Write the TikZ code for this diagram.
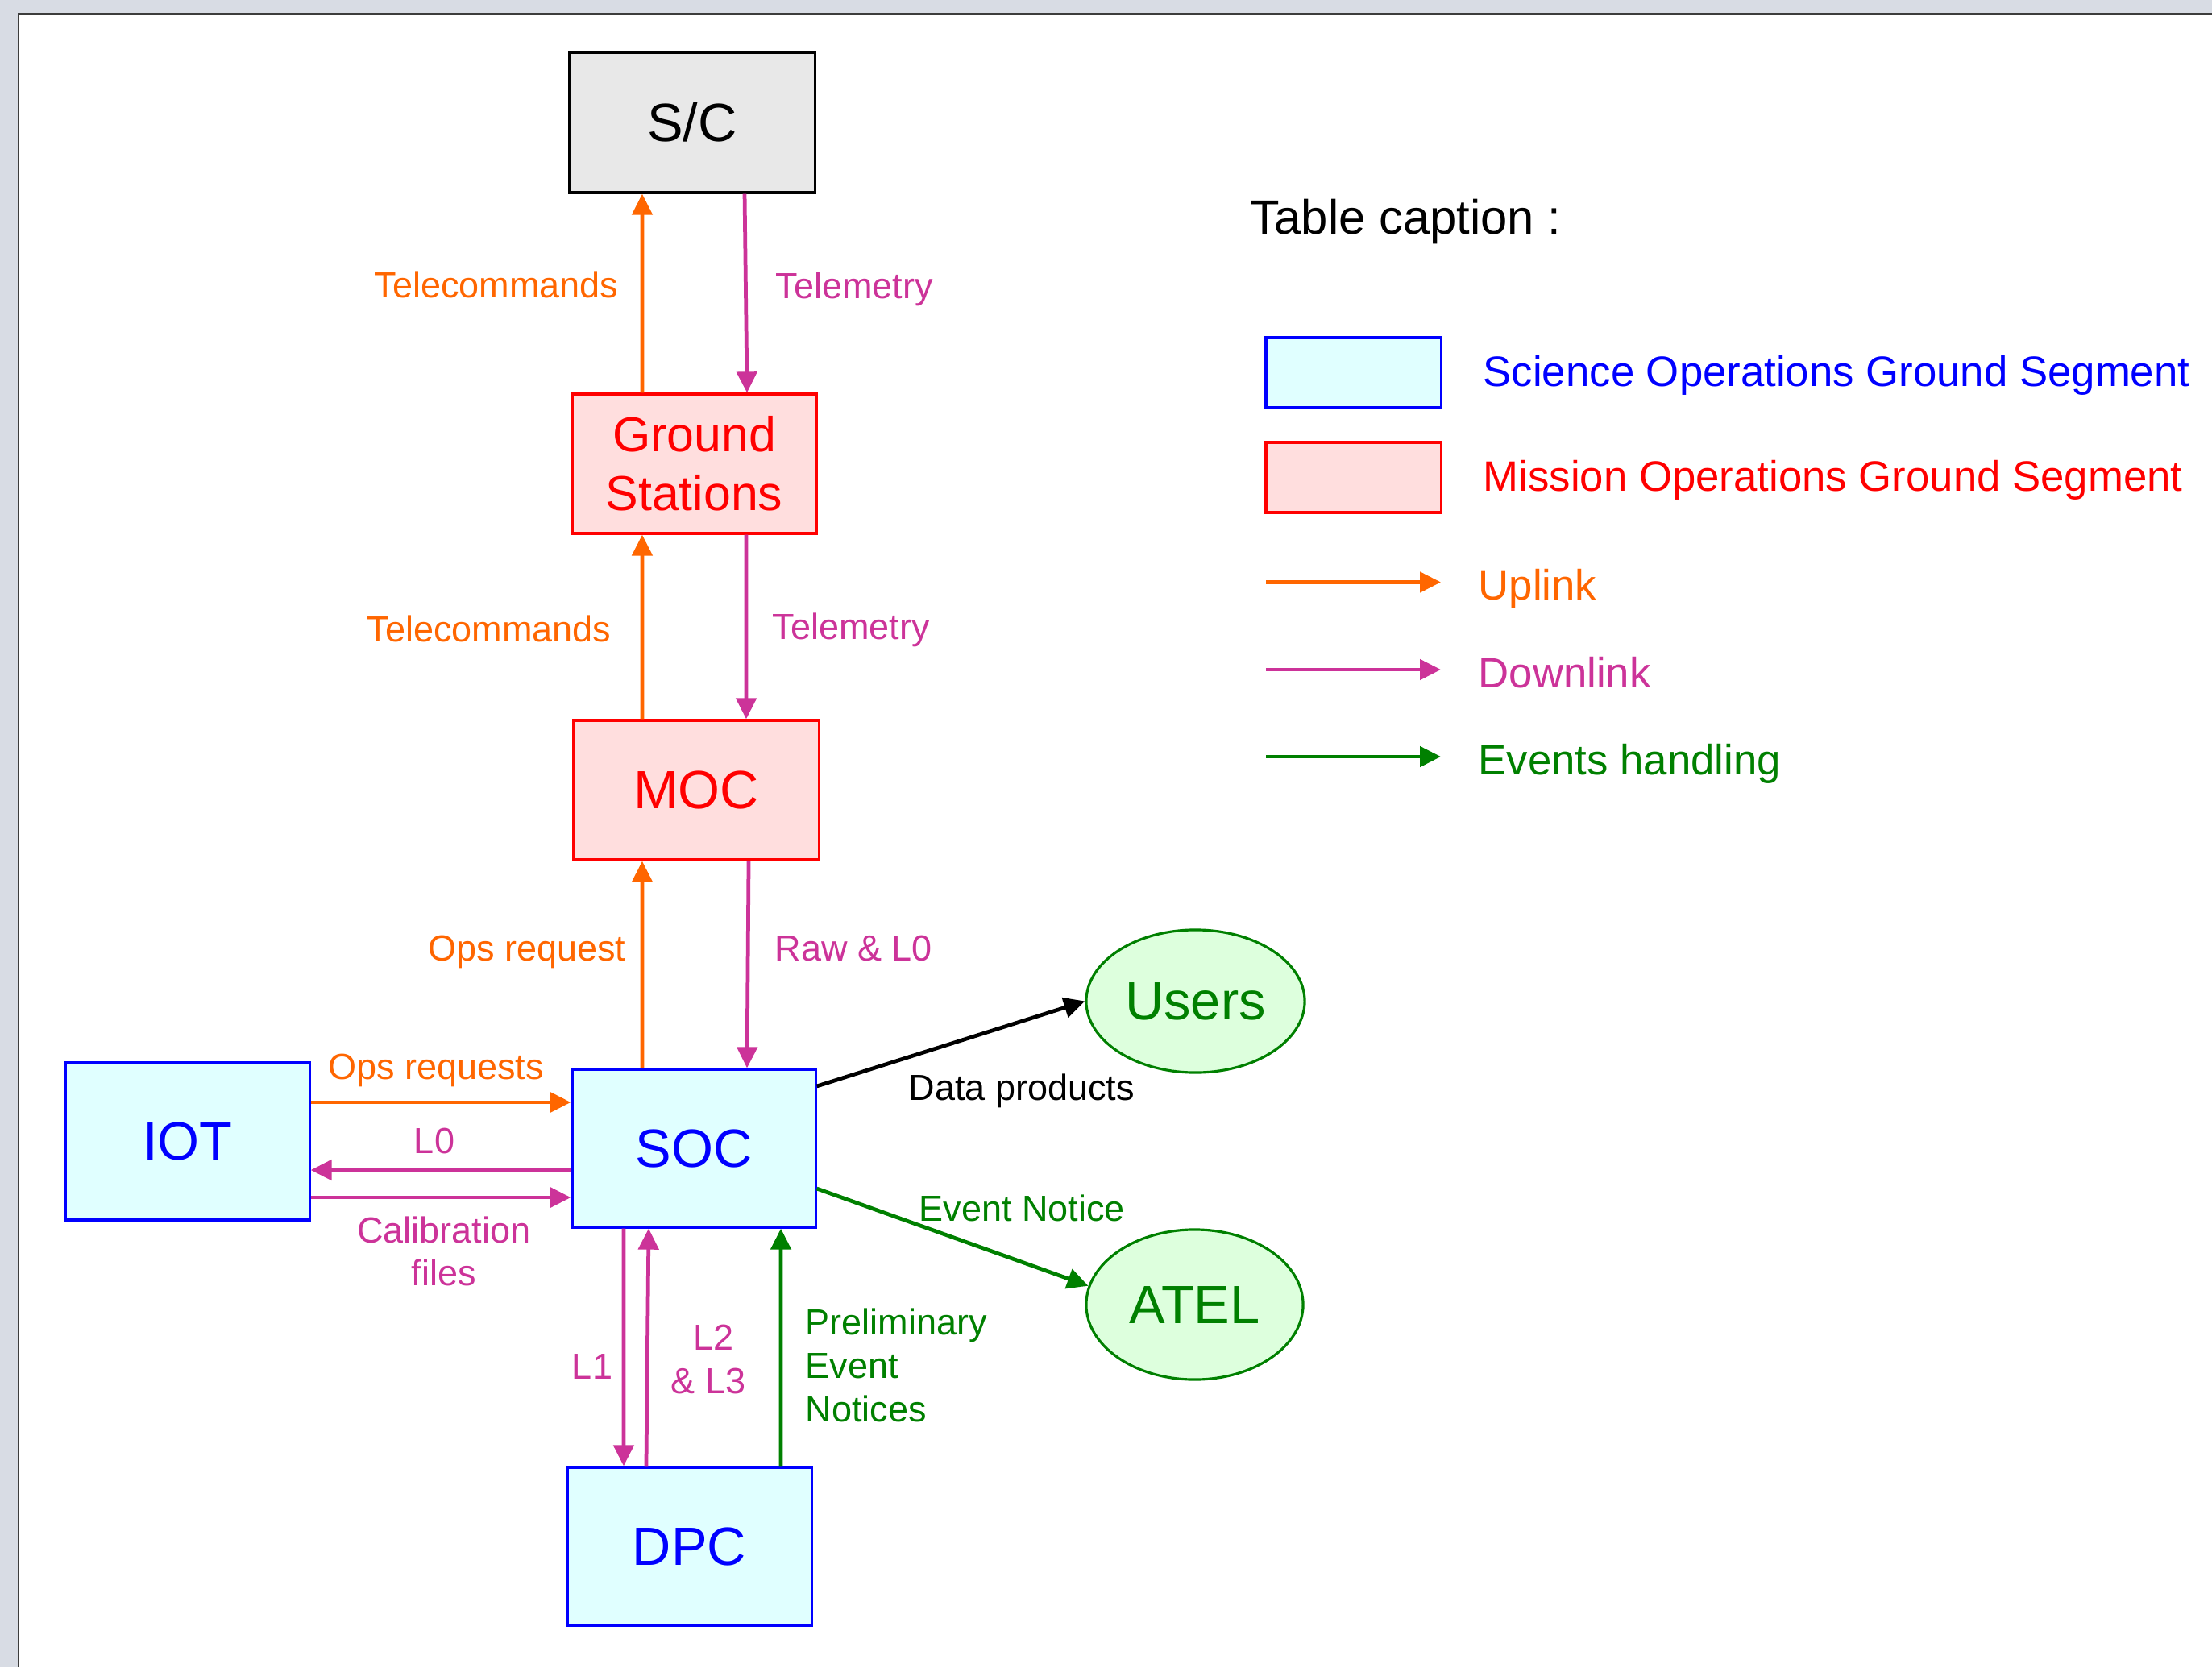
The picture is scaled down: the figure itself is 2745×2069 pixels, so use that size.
\documentclass[tikz,border=0pt]{standalone}
\usepackage{fontspec}
\setmainfont{Liberation Sans}
\usetikzlibrary{shapes.geometric,arrows.meta,calc}

\definecolor{uporange}{HTML}{FF6600}
\definecolor{downmag}{HTML}{CC3399}
\definecolor{evgreen}{HTML}{008000}
\definecolor{sogsblue}{HTML}{0000FF}
\definecolor{sogsfill}{HTML}{E0FFFF}
\definecolor{mogsred}{HTML}{FF0000}
\definecolor{mogsfill}{HTML}{FFDEDE}
\definecolor{extfill}{HTML}{DDFFDD}
\definecolor{scfill}{HTML}{E8E8E8}
\definecolor{deskgray}{HTML}{D8DCE4}
\definecolor{pageedge}{HTML}{3C3C3C}

\begin{document}
\begin{tikzpicture}[x=0.01cm,y=-0.01cm,
  box/.style={rectangle,draw,line width=0.9pt,inner sep=0pt,
    font=\fontsize{19}{22.8}\selectfont},
  sogs/.style={box,draw=sogsblue,fill=sogsfill,text=sogsblue},
  mogs/.style={box,draw=mogsred,fill=mogsfill,text=mogsred},
  ext/.style={ellipse,draw=evgreen,fill=extfill,text=evgreen,line width=0.9pt,
    inner sep=0pt,font=\fontsize{19}{22.8}\selectfont},
  flow/.style={line width=1.35pt,-{Triangle[length=2.6mm,width=2.5mm]}},
  uplink/.style={flow,draw=uporange},
  downlink/.style={flow,draw=downmag},
  events/.style={flow,draw=evgreen},
  products/.style={flow,draw=black},
  lbl/.style={inner sep=0pt,font=\fontsize{12.8}{15.2}\selectfont},
  uplbl/.style={lbl,text=uporange},
  downlbl/.style={lbl,text=downmag},
  evlbl/.style={lbl,text=evgreen},
  legendtxt/.style={inner sep=0pt,anchor=base west,font=\fontsize{15}{18}\selectfont}
]
% desk and page
\useasboundingbox (0,0) rectangle (2745,2069);
\fill[deskgray] (0,0) rectangle (2745,2069);
\fill[white] (23,17) rectangle (2745,2069);
\draw[pageedge,line width=0.6pt] (23,2069) -- (23,17) -- (2745,17);

% blocks
\node[box,fill=scfill,minimum width=3.04cm,minimum height=1.74cm] (sc) at (859,152) {S/C};
\node[mogs,minimum width=3.03cm,minimum height=1.73cm,align=center,
  font=\fontsize{17.3}{20.7}\selectfont] (gs) at (861.5,575.5) {Ground\\Stations};
\node[mogs,minimum width=3.04cm,minimum height=1.73cm] (moc) at (864,980.5) {MOC};
\node[sogs,minimum width=3.02cm,minimum height=1.96cm] (soc) at (861,1425) {SOC};
\node[sogs,minimum width=3.02cm,minimum height=1.95cm] (iot) at (233,1416.5) {IOT};
\node[sogs,minimum width=3.03cm,minimum height=1.96cm] (dpc) at (855.5,1919) {DPC};
\node[ext,minimum width=2.71cm,minimum height=1.77cm] (users) at (1483.5,1242.5) {Users};
\node[ext,minimum width=2.69cm,minimum height=1.86cm] (atel) at (1482.5,1619) {ATEL};

% spacecraft <-> ground stations <-> MOC <-> SOC
\draw[uplink] ([xshift=-6.45mm]gs.north) -- ([xshift=-6.2mm]sc.south);
\draw[downlink] ([xshift=6.5mm]sc.south) -- ([xshift=6.55mm]gs.north);
\draw[uplink] ([xshift=-6.7mm]moc.north) -- ([xshift=-6.45mm]gs.south);
\draw[downlink] ([xshift=6.45mm]gs.south) -- ([xshift=6.2mm]moc.north);
\draw[uplink] ([xshift=-6.4mm]soc.north) -- ([xshift=-6.7mm]moc.south);
\draw[downlink] ([xshift=6.5mm]moc.south) -- ([xshift=6.6mm]soc.north);

% IOT <-> SOC
\coordinate (opsq) at ([yshift=4.85mm]iot.east);
\coordinate (lzero) at ([yshift=-3.55mm]iot.east);
\coordinate (calib) at ([yshift=-6.95mm]iot.east);
\draw[uplink] (opsq) -- (opsq -| soc.west);
\draw[downlink] (lzero -| soc.west) -- (lzero);
\draw[downlink] (calib) -- (calib -| soc.west);

% SOC <-> DPC
\draw[downlink] ([xshift=-8.7mm]soc.south) -- ([xshift=-8.15mm]dpc.north);
\draw[downlink] ([xshift=-5.35mm]dpc.north) -- ([xshift=-5.6mm]soc.south);
\draw[events] ([xshift=11.35mm]dpc.north) -- ([xshift=10.8mm]soc.south);

% SOC -> Users, ATEL
\draw[products] ([yshift=7.7mm]soc.east) -- (users.west);
\draw[events] ([yshift=-5mm]soc.east) -- (atel.170);

% connector labels
\node[uplbl,anchor=base east] (tc1) at (768,369) {Telecommands};
\node[downlbl,anchor=base west] (tm1) at (962,370) {Telemetry};
\node[uplbl,anchor=base east] (tc2) at (759,796) {Telecommands};
\node[downlbl,anchor=base west] (tm2) at (958,793) {Telemetry};
\node[uplbl,anchor=base east] (opr) at (777,1192) {Ops request};
\node[downlbl,anchor=base west] (raw) at (961,1192) {Raw \& L0};
\node[uplbl,anchor=base] (oprs) at (541,1339) {Ops requests};
\node[downlbl,anchor=base] (lzl) at (539,1431) {L0};
\node[downlbl,anchor=north,align=center,font=\fontsize{12.8}{15.1}\selectfont]
  (cal) at (551,1509) {Calibration\\files};
\node[lbl,anchor=base west] (dp) at (1127,1365) {Data products};
\node[evlbl,anchor=base west] (en) at (1140,1515) {Event Notice};
\node[downlbl,anchor=base] (l1) at (735,1711) {L1};
\node[downlbl,anchor=north,align=center,font=\fontsize{12.8}{15.5}\selectfont]
  (l23) at (879,1643) {~L2\\\& L3};
\node[evlbl,anchor=north west,align=left,font=\fontsize{12.8}{15.4}\selectfont]
  (pen) at (999,1623) {Preliminary\\Event\\Notices};

% legend
\node[inner sep=0pt,anchor=base west,font=\fontsize{17}{20}\selectfont] (cap) at (1551,290) {Table caption :};
\node[sogs,minimum width=2.17cm,minimum height=0.87cm] (lsogs) at (1679.5,462.5) {};
\node[mogs,minimum width=2.17cm,minimum height=0.87cm] (lmogs) at (1679.5,592.5) {};
\node[legendtxt,text=sogsblue] (tsogs) at (1840,479) {Science Operations Ground Segment};
\node[legendtxt,text=mogsred] (tmogs) at (1840,609) {Mission Operations Ground Segment};
\coordinate (upa) at (1571,722.5);
\coordinate (upb) at (1788,722.5);
\coordinate (dna) at (1571,831);
\coordinate (dnb) at (1788,831);
\coordinate (eva) at (1571,939);
\coordinate (evb) at (1788,939);
\draw[uplink] (upa) -- (upb);
\draw[downlink] (dna) -- (dnb);
\draw[events] (eva) -- (evb);
\node[legendtxt,text=uporange] (tup) at (1834,744) {Uplink};
\node[legendtxt,text=downmag] (tdn) at (1834,853) {Downlink};
\node[legendtxt,text=evgreen] (tev) at (1834,961) {Events handling};
\end{tikzpicture}
\end{document}
